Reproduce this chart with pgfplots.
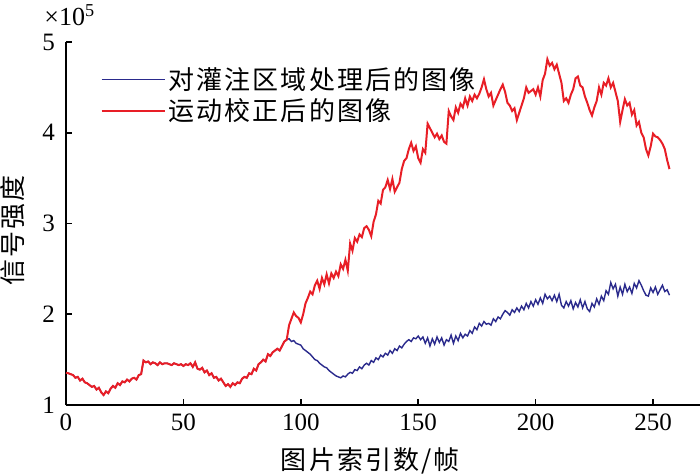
\documentclass[border=0pt]{standalone}
\usepackage{fontspec}
\setmainfont{Liberation Serif}
\newfontfamily\cjk[LetterSpace=8]{Noto Sans CJK SC}
\usepackage{pgfplots}
\usepackage{pgfplotstable}
\pgfplotsset{compat=1.18}
\definecolor{redline}{RGB}{232,30,38}
\definecolor{blueline}{RGB}{42,42,140}

% frame index vs. signal intensity (x 10^5)
\pgfplotstableread[row sep=\\]{
f v\\
0 1.355\\ 1 1.35\\ 2 1.34\\ 3 1.33\\ 4 1.30\\ 5 1.31\\ 6 1.27\\ 7 1.29\\ 8 1.25\\ 9 1.24\\
10 1.22\\ 11 1.20\\ 12 1.21\\ 13 1.17\\ 14 1.19\\ 15 1.14\\ 16 1.11\\ 17 1.15\\ 18 1.13\\ 19 1.18\\
20 1.21\\ 21 1.19\\ 22 1.24\\ 23 1.22\\ 24 1.26\\ 25 1.25\\ 26 1.28\\ 27 1.26\\ 28 1.29\\ 29 1.30\\
30 1.28\\ 31 1.33\\ 32 1.34\\ 33 1.49\\ 34 1.47\\ 35 1.48\\ 36 1.45\\ 37 1.47\\ 38 1.46\\ 39 1.44\\
40 1.47\\ 41 1.45\\ 42 1.46\\ 43 1.46\\ 44 1.45\\ 45 1.44\\ 46 1.46\\ 47 1.45\\ 48 1.44\\ 49 1.45\\
50 1.43\\ 51 1.45\\ 52 1.44\\ 53 1.46\\ 54 1.42\\ 55 1.47\\ 56 1.40\\ 57 1.39\\ 58 1.41\\ 59 1.36\\
60 1.38\\ 61 1.33\\ 62 1.35\\ 63 1.30\\ 64 1.31\\ 65 1.27\\ 66 1.29\\ 67 1.25\\ 68 1.21\\ 69 1.23\\
70 1.20\\ 71 1.24\\ 72 1.22\\ 73 1.25\\ 74 1.24\\ 75 1.29\\ 76 1.31\\ 77 1.30\\ 78 1.35\\ 79 1.34\\
80 1.40\\ 81 1.38\\ 82 1.45\\ 83 1.47\\ 84 1.50\\ 85 1.48\\ 86 1.56\\ 87 1.54\\ 88 1.58\\ 89 1.60\\
90 1.62\\ 91 1.60\\ 92 1.65\\ 93 1.70\\ 94 1.72\\
95 1.73\\ 96 1.70\\ 97 1.71\\ 98 1.68\\ 99 1.67\\
100 1.66\\ 101 1.62\\ 102 1.60\\ 103 1.58\\ 104 1.56\\ 105 1.53\\ 106 1.50\\ 107 1.49\\ 108 1.46\\ 109 1.44\\
110 1.42\\ 111 1.41\\ 112 1.38\\ 113 1.36\\ 114 1.34\\ 115 1.32\\ 116 1.31\\ 117 1.30\\ 118 1.32\\ 119 1.31\\
120 1.34\\ 121 1.36\\ 122 1.35\\ 123 1.39\\ 124 1.38\\ 125 1.42\\ 126 1.40\\ 127 1.44\\ 128 1.46\\ 129 1.44\\
130 1.49\\ 131 1.47\\ 132 1.52\\ 133 1.50\\ 134 1.55\\ 135 1.53\\ 136 1.57\\ 137 1.55\\ 138 1.60\\ 139 1.57\\
140 1.62\\ 141 1.60\\ 142 1.65\\ 143 1.63\\ 144 1.67\\ 145 1.70\\ 146 1.72\\ 147 1.70\\ 148 1.74\\ 149 1.73\\
150 1.76\\ 151 1.72\\ 152 1.75\\ 153 1.68\\ 154 1.74\\ 155 1.65\\ 156 1.73\\ 157 1.67\\ 158 1.75\\ 159 1.69\\
160 1.74\\ 161 1.66\\ 162 1.72\\ 163 1.70\\ 164 1.77\\ 165 1.68\\ 166 1.76\\ 167 1.71\\ 168 1.79\\ 169 1.74\\
170 1.78\\ 171 1.76\\ 172 1.82\\ 173 1.79\\ 174 1.86\\ 175 1.83\\ 176 1.90\\ 177 1.87\\ 178 1.92\\ 179 1.89\\
180 1.90\\ 181 1.88\\ 182 1.95\\ 183 1.92\\ 184 1.97\\ 185 1.95\\ 186 2.00\\ 187 2.04\\ 188 2.02\\ 189 1.99\\
190 2.05\\ 191 2.02\\ 192 2.07\\ 193 2.03\\ 194 2.09\\ 195 2.05\\ 196 2.12\\ 197 2.07\\ 198 2.14\\ 199 2.09\\
200 2.16\\ 201 2.11\\ 202 2.18\\ 203 2.12\\ 204 2.22\\ 205 2.17\\ 206 2.20\\ 207 2.15\\ 208 2.21\\ 209 2.14\\
210 2.22\\ 211 2.10\\ 212 2.07\\ 213 2.14\\ 214 2.09\\ 215 2.15\\ 216 2.06\\ 217 2.13\\ 218 2.08\\ 219 2.16\\
220 2.07\\ 221 2.14\\ 222 2.06\\ 223 2.03\\ 224 2.12\\ 225 2.08\\ 226 2.17\\ 227 2.11\\ 228 2.20\\ 229 2.15\\
230 2.26\\ 231 2.22\\ 232 2.35\\ 233 2.28\\ 234 2.33\\ 235 2.20\\ 236 2.30\\ 237 2.22\\ 238 2.33\\ 239 2.25\\
240 2.30\\ 241 2.23\\ 242 2.34\\ 243 2.29\\ 244 2.37\\ 245 2.32\\ 246 2.26\\ 247 2.21\\ 248 2.20\\ 249 2.29\\
250 2.24\\ 251 2.30\\ 252 2.22\\ 253 2.27\\ 254 2.32\\ 255 2.25\\ 256 2.27\\ 257 2.21\\
}\perfusion

\pgfplotstableread[row sep=\\]{
f v\\
0 1.355\\ 1 1.35\\ 2 1.34\\ 3 1.33\\ 4 1.30\\ 5 1.31\\ 6 1.27\\ 7 1.29\\ 8 1.25\\ 9 1.24\\
10 1.22\\ 11 1.20\\ 12 1.21\\ 13 1.17\\ 14 1.19\\ 15 1.14\\ 16 1.11\\ 17 1.15\\ 18 1.13\\ 19 1.18\\
20 1.21\\ 21 1.19\\ 22 1.24\\ 23 1.22\\ 24 1.26\\ 25 1.25\\ 26 1.28\\ 27 1.26\\ 28 1.29\\ 29 1.30\\
30 1.28\\ 31 1.33\\ 32 1.34\\ 33 1.49\\ 34 1.47\\ 35 1.48\\ 36 1.45\\ 37 1.47\\ 38 1.46\\ 39 1.44\\
40 1.47\\ 41 1.45\\ 42 1.46\\ 43 1.46\\ 44 1.45\\ 45 1.44\\ 46 1.46\\ 47 1.45\\ 48 1.44\\ 49 1.45\\
50 1.43\\ 51 1.45\\ 52 1.44\\ 53 1.46\\ 54 1.42\\ 55 1.47\\ 56 1.40\\ 57 1.39\\ 58 1.41\\ 59 1.36\\
60 1.38\\ 61 1.33\\ 62 1.35\\ 63 1.30\\ 64 1.31\\ 65 1.27\\ 66 1.29\\ 67 1.25\\ 68 1.21\\ 69 1.23\\
70 1.20\\ 71 1.24\\ 72 1.22\\ 73 1.25\\ 74 1.24\\ 75 1.29\\ 76 1.31\\ 77 1.30\\ 78 1.35\\ 79 1.34\\
80 1.40\\ 81 1.38\\ 82 1.45\\ 83 1.47\\ 84 1.50\\ 85 1.48\\ 86 1.56\\ 87 1.54\\ 88 1.58\\ 89 1.60\\
90 1.62\\ 91 1.60\\ 92 1.65\\ 93 1.70\\ 94 1.72\\
95 1.88\\ 96 1.95\\ 97 2.02\\ 98 1.98\\ 99 1.96\\
100 1.91\\ 101 2.00\\ 102 2.12\\ 103 2.18\\ 104 2.25\\ 105 2.22\\ 106 2.32\\ 107 2.37\\ 108 2.28\\ 109 2.40\\
110 2.33\\ 111 2.44\\ 112 2.34\\ 113 2.45\\ 114 2.40\\ 115 2.47\\ 116 2.42\\ 117 2.55\\ 118 2.50\\ 119 2.60\\
120 2.48\\ 121 2.78\\ 122 2.70\\ 123 2.84\\ 124 2.80\\ 125 2.88\\ 126 2.85\\ 127 2.95\\ 128 2.97\\ 129 2.93\\
130 2.86\\ 131 3.02\\ 132 3.10\\ 133 3.25\\ 134 3.22\\ 135 3.37\\ 136 3.40\\ 137 3.48\\ 138 3.38\\ 139 3.49\\
140 3.35\\ 141 3.40\\ 142 3.45\\ 143 3.60\\ 144 3.69\\ 145 3.72\\ 146 3.82\\ 147 3.89\\ 148 3.80\\ 149 3.85\\
150 3.72\\ 151 3.67\\ 152 3.82\\ 153 3.78\\ 154 4.10\\ 155 4.05\\ 156 4.00\\ 157 3.95\\ 158 3.99\\ 159 3.93\\
160 3.97\\ 161 3.90\\ 162 3.88\\ 163 4.24\\ 164 4.18\\ 165 4.14\\ 166 4.28\\ 167 4.22\\ 168 4.32\\ 169 4.28\\
170 4.38\\ 171 4.30\\ 172 4.40\\ 173 4.35\\ 174 4.42\\ 175 4.38\\ 176 4.43\\ 177 4.50\\ 178 4.59\\ 179 4.48\\
180 4.40\\ 181 4.44\\ 182 4.30\\ 183 4.36\\ 184 4.42\\ 185 4.48\\ 186 4.53\\ 187 4.45\\ 188 4.33\\ 189 4.30\\
190 4.24\\ 191 4.27\\ 192 4.14\\ 193 4.22\\ 194 4.30\\ 195 4.38\\ 196 4.50\\ 197 4.44\\ 198 4.46\\ 199 4.48\\
200 4.42\\ 201 4.50\\ 202 4.40\\ 203 4.58\\ 204 4.65\\ 205 4.81\\ 206 4.74\\ 207 4.77\\ 208 4.70\\ 209 4.75\\
210 4.65\\ 211 4.55\\ 212 4.35\\ 213 4.38\\ 214 4.33\\ 215 4.42\\ 216 4.48\\ 217 4.60\\ 218 4.62\\ 219 4.52\\
220 4.50\\ 221 4.40\\ 222 4.33\\ 223 4.25\\ 224 4.19\\ 225 4.28\\ 226 4.35\\ 227 4.50\\ 228 4.42\\ 229 4.55\\
230 4.52\\ 231 4.60\\ 232 4.50\\ 233 4.55\\ 234 4.45\\ 235 4.35\\ 236 4.12\\ 237 4.25\\ 238 4.37\\ 239 4.30\\
240 4.33\\ 241 4.20\\ 242 4.25\\ 243 4.08\\ 244 4.12\\ 245 4.00\\ 246 3.95\\ 247 3.82\\ 248 3.75\\ 249 3.85\\
250 3.99\\ 251 3.96\\ 252 3.95\\ 253 3.92\\ 254 3.88\\ 255 3.82\\ 256 3.70\\ 257 3.60\\
}\motion

\begin{document}
\begin{tikzpicture}
\useasboundingbox (-33pt,-34pt) rectangle (317pt,202.5pt);
\begin{axis}[
  scale only axis,
  width=317pt, height=181.5pt,
  at={(0,0)}, anchor=south west,
  axis x line=bottom, axis y line=left,
  axis line style={-, line width=0.9pt},
  tick align=inside,
  major tick length=3pt,
  tick style={line width=0.8pt, black},
  xmin=0, xmax=270, ymin=1, ymax=5,
  xtick={0,50,...,250}, ytick={1,2,3,4,5},
  /pgf/number format/assume math mode=true,
  ticklabel style={font=\fontsize{12.5}{14}\selectfont},
  yticklabel style={xshift=-2pt},
  xticklabel style={yshift=-1pt},
  xlabel={\cjk 图片索引数/帧},
  ylabel={\cjk 信号强度},
  label style={font=\fontsize{13}{15}\selectfont},
  xlabel style={at={(rel axis cs:0.48,0)}, anchor=north, yshift=-18pt},
  ylabel style={at={(rel axis cs:0,0.48)}, anchor=south, yshift=17pt},
  legend cell align=left,
  legend style={draw=none, fill=none, at={(rel axis cs:0.054,0.94)}, anchor=north west,
    font=\fontsize{13}{15}\selectfont, row sep=0pt, inner sep=0pt,
    nodes={inner sep=1.5pt}},
  legend image code/.code={\draw[#1] (0pt,0pt) -- (31.5pt,0pt);},
]
\addplot[blueline, line width=0.7pt] table[x=f, y=v] {\perfusion};
\addlegendentry{\cjk 对灌注区域处理后的图像}
\addplot[redline, line width=1pt] table[x=f, y=v] {\motion};
\addlegendentry{\cjk 运动校正后的图像}
\end{axis}
\node[anchor=west, font=\fontsize{13}{15}\selectfont, inner sep=0pt] at (-11pt,195pt) {×10\textsuperscript{5}};
\end{tikzpicture}
\end{document}
